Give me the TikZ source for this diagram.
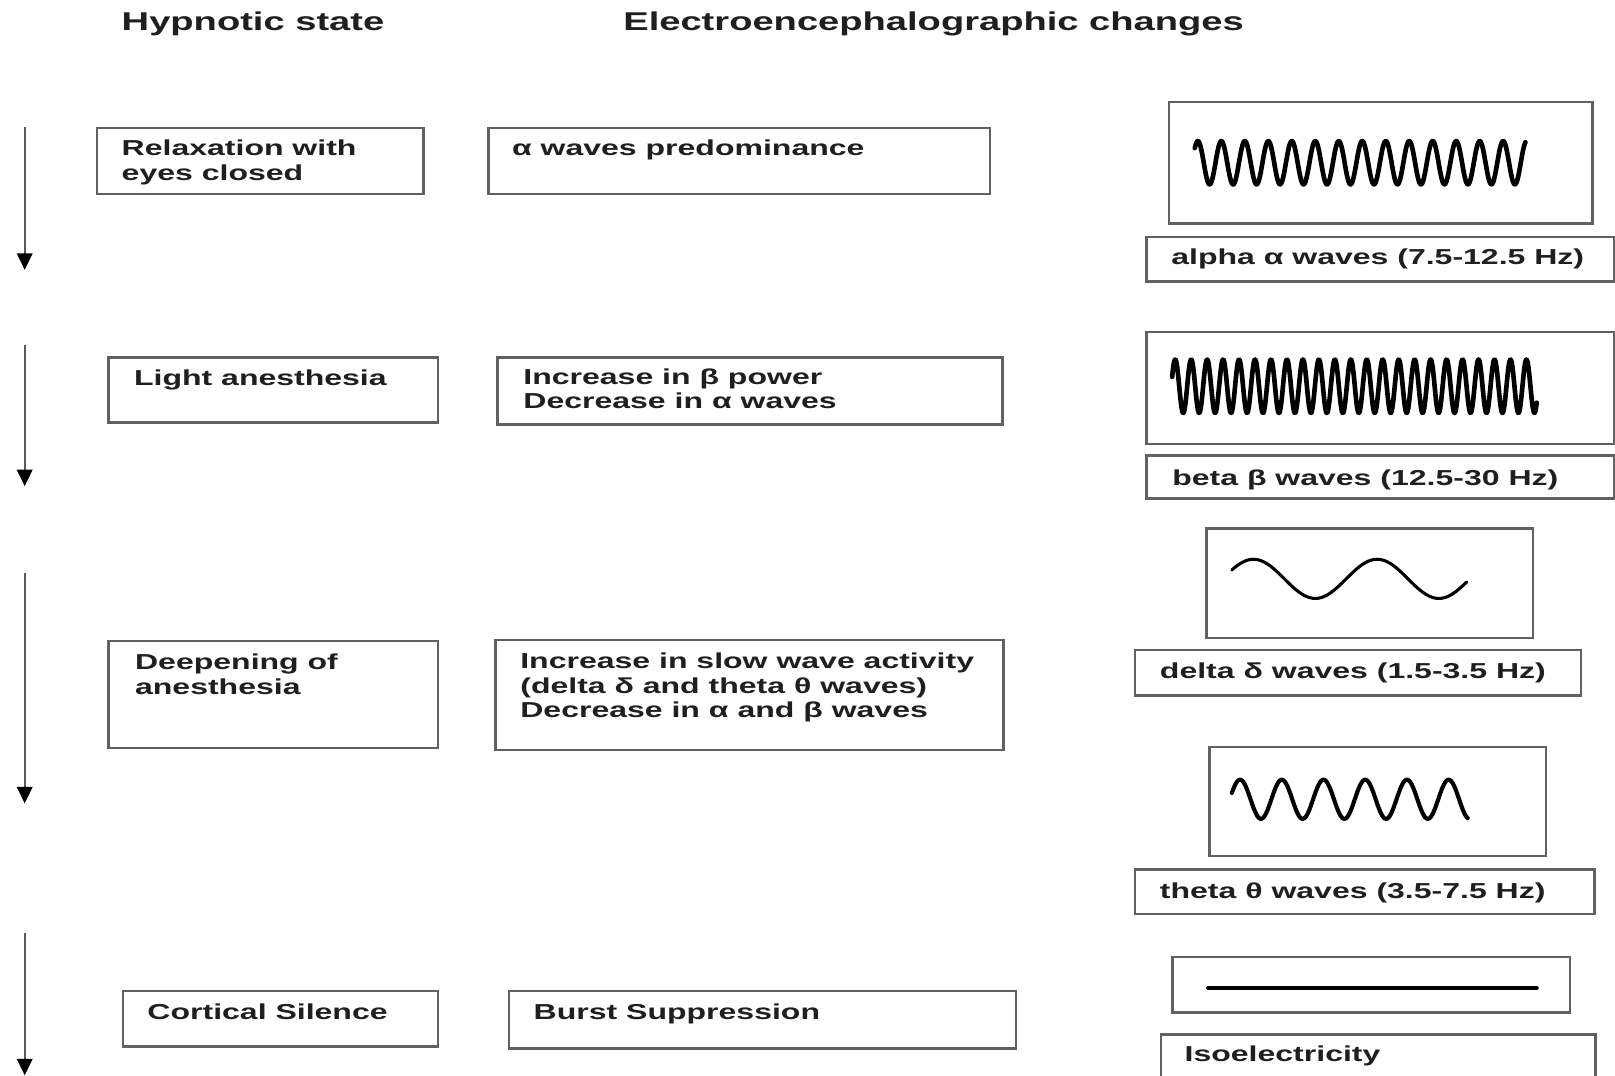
\documentclass[tikz,border=0pt]{standalone}
\usepackage{fontspec}
\setmainfont{Liberation Sans}[FakeStretch=1.48]
\usetikzlibrary{arrows.meta}
\begin{document}
\begin{tikzpicture}[x=1pt,y=-1pt,
  box/.style={draw=black!62, line width=2.4pt, anchor=north west, inner sep=0pt},
  txt/.style={anchor=base west, inner sep=0pt, align=left, text=black!88,
    font=\bfseries\fontsize{21}{24}\selectfont},
  ttl/.style={anchor=base west, inner sep=0pt, text=black!88,
    font=\bfseries\fontsize{25}{28}\selectfont},
  flow/.style={draw=black!65, line width=2pt, -{Triangle[width=15pt,length=16pt,color=black]}},
  wave/.style={draw=black, line join=round, line cap=round}]
\clip (0,0) rectangle (1568,1044);
\useasboundingbox (0,0) rectangle (1568,1044);
\fill[white] (0,0) rectangle (1568,1044);

% titles
\node[ttl] (t1) at (118,30) {Hypnotic state};
\node[ttl] (t2) at (605,30) {Electroencephalographic changes};

% row 1
\node[box, minimum width=317pt, minimum height=64pt] (r1) at (93,123) {};
\node[txt] (r1t) at (118,175) {Relaxation with\\eyes closed};
\node[box, minimum width=487pt, minimum height=64pt] (e1) at (473,123) {};
\node[txt] (e1t) at (497,151) {α waves predominance};
\node[box, minimum width=411pt, minimum height=118pt] (w1) at (1134,98) {};
\draw[wave, line width=4.5pt] plot[domain=1160:1481, samples=700] (\x,{158-21*cos((\x-1163)/22.8*360)});
\node[box, minimum width=454pt, minimum height=43pt] (l1) at (1112,229) {};
\node[txt] (l1t) at (1137,257) {alpha α waves (7.5-12.5 Hz)};

% row 2
\node[box, minimum width=320pt, minimum height=63pt] (r2) at (104,346) {};
\node[txt] (r2t) at (130,374) {Light anesthesia};
\node[box, minimum width=490pt, minimum height=65pt] (e2) at (482,346) {};
\node[txt] (e2t) at (508,397) {Increase in β power\\Decrease in α waves};
\node[box, minimum width=454pt, minimum height=109pt] (w2) at (1112,321) {};
\draw[wave, line width=4.5pt] plot[domain=1138:1492, samples=900] (\x,{375-26*cos((\x-1141)/15.5*360)});
\node[box, minimum width=454pt, minimum height=42pt] (l2) at (1112,441) {};
\node[txt] (l2t) at (1138,471) {beta β waves (12.5-30 Hz)};

% delta
\node[box, minimum width=317pt, minimum height=106pt] (w3) at (1170,512) {};
\draw[wave, line width=3pt] plot[domain=1196:1424, samples=300] (\x,{562-19*cos((\x-1217)*3)});
\node[box, minimum width=433pt, minimum height=44pt] (l3) at (1101,630) {};
\node[txt] (l3t) at (1126,659) {delta δ waves (1.5-3.5 Hz)};

% row 3
\node[box, minimum width=320pt, minimum height=104pt] (r3) at (104,621) {};
\node[txt] (r3t) at (131,674) {Deepening of\\anesthesia};
\node[box, minimum width=493pt, minimum height=107pt] (e3) at (480,620) {};
\node[txt] (e3t) at (505,697) {Increase in slow wave activity\\(delta δ and theta θ waves)\\Decrease in α and β waves};

% theta
\node[box, minimum width=327pt, minimum height=106pt] (w4) at (1173,724) {};
\draw[wave, line width=4pt] plot[domain=1196:1425, samples=400] (\x,{776-19*cos((\x-1204)/40.5*360)});
\node[box, minimum width=446pt, minimum height=43pt] (l4) at (1101,843) {};
\node[txt] (l4t) at (1126,872) {theta θ waves (3.5-7.5 Hz)};

% row 4
\node[box, minimum width=306pt, minimum height=54pt] (r4) at (118,961) {};
\node[txt] (r4t) at (143,990) {Cortical Silence};
\node[box, minimum width=492pt, minimum height=56pt] (e4) at (493,961) {};
\node[txt] (e4t) at (518,990) {Burst Suppression};
\node[box, minimum width=386pt, minimum height=54pt] (w5) at (1137,928) {};
\coordinate (iso1) at (1173,959);
\coordinate (iso2) at (1492,959);
\draw[wave, line width=4pt] (iso1) -- (iso2);
\node[box, minimum width=422pt, minimum height=60pt] (l5) at (1126,1003) {};
\node[txt] (l5t) at (1150,1031) {Isoelectricity};

% arrows
\coordinate (a1s) at (24,123); \coordinate (a1e) at (24,262);
\coordinate (a2s) at (24,335); \coordinate (a2e) at (24,472);
\coordinate (a3s) at (24,556); \coordinate (a3e) at (24,780);
\coordinate (a4s) at (24,906); \coordinate (a4e) at (24,1044);
\draw[flow] (a1s) -- (a1e);
\draw[flow] (a2s) -- (a2e);
\draw[flow] (a3s) -- (a3e);
\draw[flow] (a4s) -- (a4e);
\end{tikzpicture}
\end{document}
